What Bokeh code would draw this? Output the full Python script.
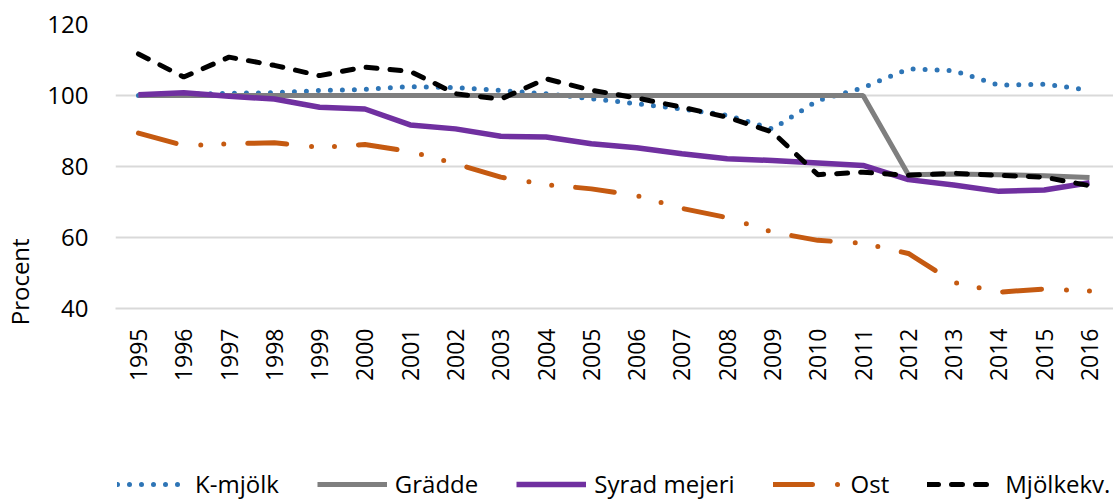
import math
from bokeh.plotting import figure
from bokeh.layouts import column
from bokeh.models import Range1d, FixedTicker, Legend, LegendItem
from bokeh.embed import file_html
from bokeh.resources import INLINE

years = [1995, 1996, 1997, 1998, 1999, 2000, 2001, 2002, 2003, 2004, 2005,
         2006, 2007, 2008, 2009, 2010, 2011, 2012, 2013, 2014, 2015, 2016]
k_mjolk = [100.0, 100.3, 100.6, 100.8, 101.4, 101.7, 102.5, 102.2, 101.4, 100.5, 99.1,
           97.7, 96.2, 94.4, 90.6, 98.6, 102.2, 107.5, 107.0, 102.9, 103.2, 101.5]
gradde = [100.0, 100.0, 100.0, 100.0, 100.0, 100.0, 100.0, 100.0, 100.0, 100.0, 100.0,
          100.0, 100.0, 100.0, 100.0, 100.0, 100.0, 77.7, 77.9, 77.7, 77.4, 76.9]
syrad = [100.2, 100.8, 99.8, 99.0, 96.7, 96.2, 91.7, 90.6, 88.5, 88.3, 86.4,
         85.3, 83.6, 82.2, 81.7, 81.0, 80.3, 76.3, 74.8, 73.0, 73.4, 75.4]
ost = [89.4, 85.9, 86.4, 86.7, 85.4, 86.2, 84.2, 80.8, 77.0, 74.9, 73.7,
       71.8, 68.2, 65.6, 61.5, 59.2, 58.4, 55.5, 47.4, 44.6, 45.5, 44.9]
mjolkekv = [111.7, 105.2, 110.8, 108.5, 105.6, 108.0, 106.8, 100.5, 99.0, 104.7, 101.5,
            99.3, 96.7, 93.9, 89.7, 77.7, 78.4, 77.5, 78.1, 77.5, 77.0, 74.6]
y_ticks = [40, 60, 80, 100, 120]
series_names = ["K-mjölk", "Grädde", "Syrad mejeri", "Ost", "Mjölkekv."]
y_title = "Procent"

FONT = "Open Sans"

styles = [
    dict(line_color="#2e75b6", line_width=5, line_dash="0 12", line_cap="round"),
    dict(line_color="#7f7f7f", line_width=5),
    dict(line_color="#7030a0", line_width=5.5, line_join="round"),
    dict(line_color="#c55a11", line_width=5, line_dash="39 25 0 23 0 24", line_cap="round"),
    dict(line_color="#000000", line_width=5, line_dash="11 13", line_cap="round"),
]
series = [k_mjolk, gradde, syrad, ost, mjolkekv]

# ---------------- main chart ----------------
p = figure(width=1113, height=460, output_backend="svg", toolbar_location=None,
           x_range=Range1d(1994.493, 2016.529), y_range=Range1d(40, 120),
           min_border_left=113, min_border_right=0, min_border_top=24,
           min_border_bottom=152)
p.outline_line_color = None
p.xgrid.grid_line_color = None
p.ygrid.grid_line_color = "#d9d9d9"
p.ygrid.grid_line_width = 2

p.yaxis.ticker = FixedTicker(ticks=y_ticks)
p.yaxis.axis_line_color = None
p.yaxis.major_tick_line_color = None
p.yaxis.minor_tick_line_color = None
p.yaxis.major_tick_out = 0
p.yaxis.major_tick_in = 0
p.yaxis.minor_tick_out = 0
p.yaxis.major_label_standoff = 27
p.yaxis.major_label_text_font = FONT
p.yaxis.major_label_text_font_size = "24px"
p.yaxis.major_label_text_color = "#000000"
# title padded with no-break spaces so that it sits low, as in the original
p.yaxis.axis_label = y_title + "\u00a0" * 37
p.yaxis.axis_label_standoff = 8
p.yaxis.axis_label_text_font = FONT
p.yaxis.axis_label_text_font_size = "24px"
p.yaxis.axis_label_text_font_style = "normal"
p.yaxis.axis_label_text_color = "#000000"

p.xaxis.ticker = FixedTicker(ticks=years)
p.xaxis.axis_line_color = "#d9d9d9"
p.xaxis.axis_line_width = 2
p.xaxis.major_tick_line_color = None
p.xaxis.minor_tick_line_color = None
p.xaxis.major_tick_out = 0
p.xaxis.major_tick_in = 0
p.xaxis.minor_tick_out = 0
p.xaxis.major_label_orientation = math.pi / 2
p.xaxis.major_label_standoff = 20
p.xaxis.major_label_text_font = FONT
p.xaxis.major_label_text_font_size = "23px"
p.xaxis.major_label_text_color = "#000000"

for vals, st in zip(series, styles):
    p.line(years, vals, **st)

# ---------------- legend strip ----------------
q = figure(width=1113, height=39, output_backend="svg", toolbar_location=None,
           x_range=Range1d(1994.493, 2016.529), y_range=Range1d(0, 1),
           min_border_left=0, min_border_right=0, min_border_top=0,
           min_border_bottom=0, x_axis_location=None, y_axis_location=None)
q.outline_line_color = None
q.grid.grid_line_color = None
legend_renderers = [q.line(years, vals, **st) for vals, st in zip(series, styles)]

items = [LegendItem(label=n, renderers=[r]) for n, r in zip(series_names, legend_renderers)]
lg = Legend(items=items, location=(2, -1), orientation="horizontal",
            glyph_width=70, glyph_height=24, label_height=24,
            label_standoff=8, padding=0, margin=0, spacing=38,
            border_line_color=None, background_fill_alpha=0,
            label_text_font=FONT, label_text_font_size="24px",
            label_text_color="#000000")
q.add_layout(lg, "center")

layout = column(p, q, spacing=0)
open("out.html", "w").write(file_html(layout, INLINE))
